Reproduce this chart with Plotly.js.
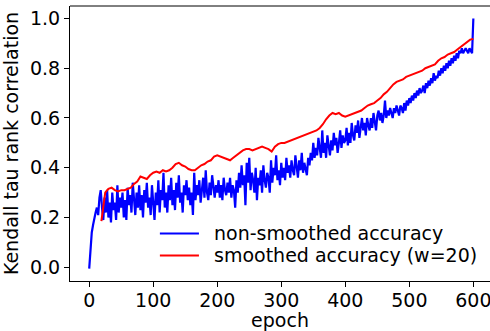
<!DOCTYPE html>
<html>
<head>
<meta charset="utf-8">
<script src="https://cdn.plot.ly/plotly-3.0.1.min.js"></script>
<style>html,body{margin:0;padding:0;background:#fff;}#chart{width:490px;height:331px;}</style>
</head>
<body>
<div id="chart"></div>
<script>
// non-smoothed accuracy, sampled every 2 epochs (0..600)
const blueValues = [
-0.005,0.09,0.14,0.17,0.2,0.22,0.24,0.21,0.28,0.31,0.24,0.19,0.28,0.22,0.31,0.2,0.26,0.18,0.3,0.23,
0.26,0.19,0.33,0.22,0.28,0.24,0.3,0.2,0.27,0.19,0.32,0.25,0.29,0.22,0.34,0.26,0.21,0.3,0.24,0.33,
0.23,0.29,0.2,0.31,0.26,0.34,0.24,0.28,0.21,0.33,0.27,0.19,0.3,0.25,0.35,0.22,0.31,0.27,0.38,0.24,
0.3,0.22,0.33,0.27,0.36,0.25,0.31,0.23,0.34,0.28,0.37,0.26,0.3,0.22,0.33,0.29,0.35,0.27,0.32,0.25,
0.3,0.21,0.38,0.27,0.33,0.29,0.35,0.26,0.31,0.36,0.28,0.39,0.3,0.27,0.34,0.29,0.37,0.31,0.28,0.33,
0.3,0.35,0.28,0.33,0.27,0.36,0.31,0.29,0.34,0.3,0.36,0.28,0.33,0.31,0.24,0.35,0.3,0.38,0.32,0.41,
0.33,0.37,0.25,0.42,0.34,0.44,0.31,0.38,0.35,0.3,0.4,0.27,0.36,0.33,0.39,0.3,0.41,0.35,0.32,0.38,
0.36,0.3,0.43,0.34,0.4,0.37,0.45,0.35,0.39,0.33,0.42,0.36,0.4,0.35,0.44,0.38,0.41,0.36,0.43,0.39,
0.37,0.45,0.4,0.36,0.43,0.39,0.46,0.38,0.42,0.4,0.37,0.44,0.41,0.46,0.43,0.5,0.44,0.48,0.45,0.52,
0.47,0.44,0.55,0.46,0.5,0.44,0.53,0.48,0.45,0.51,0.47,0.54,0.49,0.52,0.46,0.5,0.55,0.48,0.53,0.5,
0.51,0.56,0.49,0.54,0.5,0.58,0.53,0.51,0.57,0.54,0.59,0.52,0.56,0.6,0.55,0.58,0.53,0.6,0.57,0.55,
0.6,0.56,0.62,0.58,0.55,0.61,0.63,0.59,0.62,0.58,0.61,0.67,0.6,0.63,0.61,0.64,0.62,0.6,0.64,0.62,
0.65,0.63,0.61,0.65,0.64,0.62,0.66,0.63,0.67,0.65,0.68,0.66,0.69,0.67,0.7,0.68,0.71,0.69,0.72,0.7,
0.71,0.73,0.7,0.74,0.72,0.75,0.73,0.76,0.74,0.78,0.75,0.77,0.76,0.79,0.77,0.8,0.78,0.81,0.79,0.82,
0.8,0.83,0.81,0.84,0.82,0.85,0.83,0.86,0.84,0.87,0.86,0.88,0.86,0.87,0.88,0.87,0.86,0.88,0.87,0.86,
1.0
];
const blueEpochs = blueValues.map((v, i) => i * 2);

// smoothed accuracy (w=20)
const redEpochsStart = [19, 22, 25, 28];
const redValues = [
0.186,0.25,0.30,0.31,
0.315,0.32,0.31,0.305,0.31,0.31,0.315,0.32,0.335,0.345,
0.365,0.36,0.355,0.37,0.38,0.385,0.38,0.39,0.385,0.39,
0.40,0.415,0.42,0.41,0.405,0.395,0.39,0.39,0.40,0.41,
0.415,0.425,0.43,0.445,0.45,0.445,0.44,0.435,0.43,0.44,
0.45,0.46,0.47,0.475,0.475,0.47,0.475,0.48,0.485,0.48,
0.475,0.465,0.485,0.495,0.50,0.50,0.505,0.51,0.515,0.52,
0.525,0.53,0.535,0.54,0.545,0.55,0.56,0.575,0.595,0.61,
0.62,0.615,0.62,0.61,0.605,0.61,0.615,0.62,0.625,0.63,
0.64,0.65,0.655,0.66,0.67,0.68,0.695,0.705,0.72,0.735,
0.745,0.75,0.755,0.765,0.77,0.775,0.78,0.785,0.79,0.80,
0.805,0.81,0.815,0.83,0.84,0.845,0.855,0.86,0.865,0.875,
0.885,0.895,0.905,0.915,0.918
];
const redEpochs = redValues.map((v, i) => i < redEpochsStart.length ? redEpochsStart[i] : 30 + (i - redEpochsStart.length) * 5);

const seriesNames = ['non-smoothed accuracy', 'smoothed accuracy (w=20)'];
const seriesColors = ['#0000ff', '#ff0000'];
const xTicks = [0, 100, 200, 300, 400, 500, 600];
const yTicks = [0.0, 0.2, 0.4, 0.6, 0.8, 1.0];

const FONT = 'DejaVu Sans, sans-serif';
const FS = 19;

const traces = [
  {x: blueEpochs, y: blueValues, type: 'scatter', mode: 'lines', name: seriesNames[0],
   line: {color: seriesColors[0], width: 2.2}},
  {x: redEpochs, y: redValues, type: 'scatter', mode: 'lines', name: seriesNames[1],
   line: {color: seriesColors[1], width: 2}}
];

// legend drawn in paper coordinates (matplotlib-style, compact rows)
const legRowsY = [0.173, 0.093];
const legendShapes = seriesNames.map((n, i) => ({
  type: 'line', xref: 'paper', yref: 'paper', x0: 0.214, x1: 0.307, y0: legRowsY[i], y1: legRowsY[i],
  line: {color: seriesColors[i], width: 2}
}));
const legendTexts = seriesNames.map((n, i) => ({
  xref: 'paper', yref: 'paper', x: 0.340, y: legRowsY[i], xanchor: 'left', yanchor: 'middle',
  text: n, showarrow: false, font: {family: FONT, size: FS, color: '#000'}, borderpad: 0
}));

const layout = {
  width: 490, height: 331,
  margin: {l: 70, r: 0, t: 6, b: 50},
  paper_bgcolor: '#fff', plot_bgcolor: '#fff',
  font: {family: FONT, size: FS, color: '#000'},
  showlegend: false,
  xaxis: {range: [-30, 626], tickvals: xTicks, ticktext: xTicks.map(String),
          ticklabeloverflow: 'allow', ticklabelstandoff: -3,
          showgrid: false, zeroline: false, showline: true, linecolor: '#000', linewidth: 1,
          ticks: 'outside', ticklen: 5, tickwidth: 1, tickcolor: '#000',
          tickfont: {family: FONT, size: FS},
          title: {text: 'epoch', font: {family: FONT, size: FS}, standoff: 3}},
  yaxis: {range: [-0.055, 1.05], tickvals: yTicks, ticktext: yTicks.map(v => v.toFixed(1)),
          showgrid: false, zeroline: false, showline: true, linecolor: '#000', linewidth: 1,
          ticks: 'outside', ticklen: 5, tickwidth: 1, tickcolor: '#000',
          tickfont: {family: FONT, size: FS},
          title: {text: 'Kendall tau rank correlation', font: {family: FONT, size: FS}, standoff: 6}},
  shapes: [{type: 'line', xref: 'paper', yref: 'paper', x0: 0, x1: 1, y0: 1, y1: 1,
            line: {color: '#000', width: 1}}].concat(legendShapes),
  annotations: legendTexts
};

Plotly.newPlot('chart', traces, layout, {staticPlot: true, displayModeBar: false});
</script>
</body>
</html>
